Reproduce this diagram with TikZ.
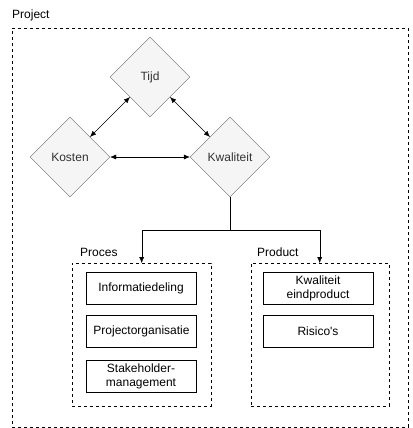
\documentclass[tikz,border=0pt]{standalone}
\usepackage{fontspec}
\setmainfont{Liberation Sans}
\usetikzlibrary{shapes.geometric,arrows.meta}
\definecolor{diafill}{HTML}{F5F5F5}
\definecolor{diadraw}{HTML}{666666}
\definecolor{diatext}{HTML}{333333}
\begin{document}
\begin{tikzpicture}[x=1pt,y=-1pt,
  font=\fontsize{12}{14}\selectfont,
  factor/.style={draw=diadraw, fill=diafill, text=diatext, shape=diamond, aspect=1, minimum size=80pt, inner sep=0pt},
  group/.style={draw, dash pattern=on 3pt off 3pt},
  item/.style={draw, align=center, minimum width=110pt, minimum height=32pt, inner sep=1pt},
  tag/.style={anchor=west, inner sep=0pt},
  link/.style={{Latex[length=6pt,width=5pt]}-{Latex[length=6pt,width=5pt]}},
  feed/.style={-{Latex[length=6pt,width=5pt]}}]
\useasboundingbox (0,0) rectangle (412,428);
\node[group, minimum width=396pt, minimum height=399pt, anchor=north west] (project) at (12,28) {};
\node[tag] (projecttag) at (12,15) {Project};

\node[factor] (tijd) at (150,77) {Tijd};
\node[factor] (kosten) at (70,157) {Kosten};
\node[factor] (kwal) at (230,157) {Kwaliteit};

\draw[link] (kosten.north east) -- (tijd.south west);
\draw[link] (tijd.south east) -- (kwal.north west);
\draw[link] (kosten.east) -- (kwal.west);

\node[group, minimum width=139pt, minimum height=143pt, anchor=north west] (proces) at (72,263) {};
\node[tag] (procestag) at (80,252) {Proces};
\node[group, minimum width=138pt, minimum height=143pt, anchor=north west] (product) at (250.5,263) {};
\node[tag] (producttag) at (257,252) {Product};

\coordinate (split) at (230,230);
\draw (kwal.south) -- (split);
\draw[feed] (split) -| (proces.north);
\draw[feed] (split) -| (product.north);

\node[item] (info) at (141,288) {Informatiedeling};
\node[item] (org) at (141.5,331.5) {Projectorganisatie};
\node[item] (stake) at (141,376.5) {Stakeholder-\\management};
\node[item] (eind) at (318,288) {Kwaliteit\\eindproduct};
\node[item] (risico) at (318,331.5) {Risico\textquotesingle s};
\end{tikzpicture}
\end{document}
